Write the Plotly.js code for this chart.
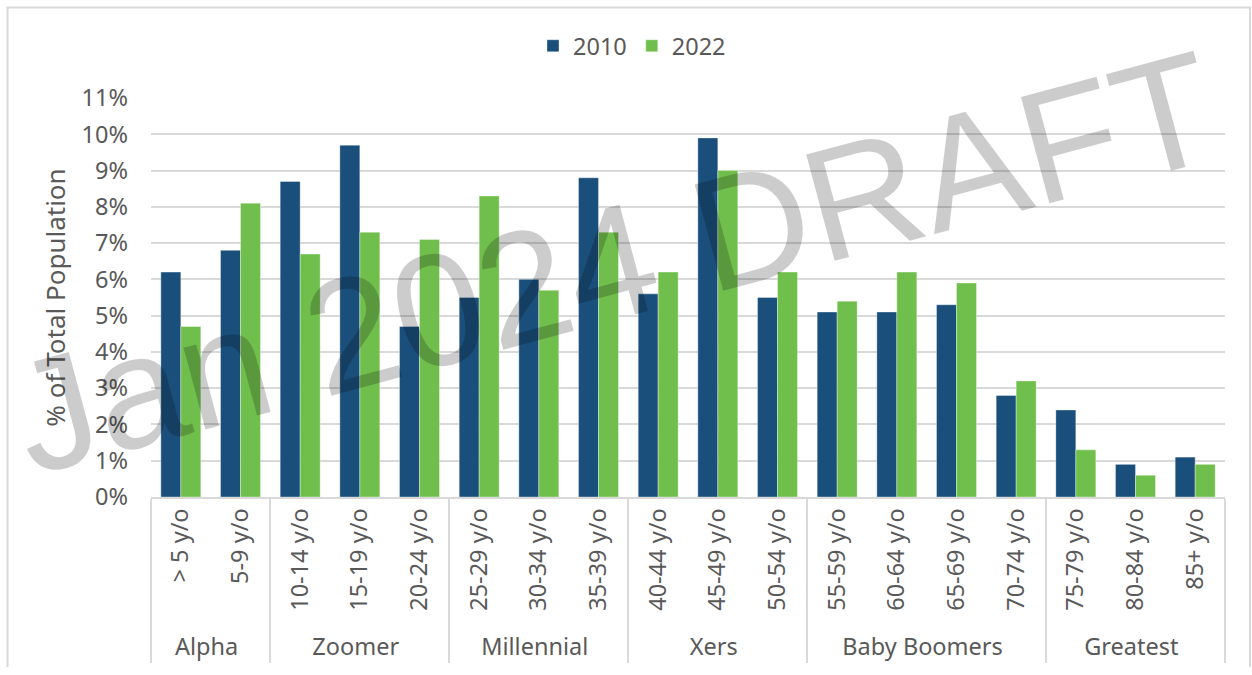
<!DOCTYPE html>
<html>
<head>
<meta charset="utf-8">
<script src="https://cdn.plot.ly/plotly-3.0.1.min.js"></script>
<style>
  html, body { margin: 0; padding: 0; background: #ffffff; }
  #chart { width: 1252px; height: 675px; }
</style>
</head>
<body>
<div id="chart"></div>
<script>
// ---- data ----
const generations = ["Alpha", "Alpha",
  "Zoomer", "Zoomer", "Zoomer",
  "Millennial", "Millennial", "Millennial",
  "Xers", "Xers", "Xers",
  "Baby Boomers", "Baby Boomers", "Baby Boomers", "Baby Boomers",
  "Greatest", "Greatest", "Greatest"];
const ageGroups = ["> 5 y/o", "5-9 y/o",
  "10-14 y/o", "15-19 y/o", "20-24 y/o",
  "25-29 y/o", "30-34 y/o", "35-39 y/o",
  "40-44 y/o", "45-49 y/o", "50-54 y/o",
  "55-59 y/o", "60-64 y/o", "65-69 y/o", "70-74 y/o",
  "75-79 y/o", "80-84 y/o", "85+ y/o"];
const values2010 = [6.2, 6.8, 8.7, 9.7, 4.7, 5.5, 6.0, 8.8, 5.6, 9.9, 5.5, 5.1, 5.1, 5.3, 2.8, 2.4, 0.9, 1.1];
const values2022 = [4.7, 8.1, 6.7, 7.3, 7.1, 8.3, 5.7, 7.3, 6.2, 9.0, 6.2, 5.4, 6.2, 5.9, 3.2, 1.3, 0.6, 0.9];
const seriesNames = ["2010", "2022"];
const yTicks = [0, 1, 2, 3, 4, 5, 6, 7, 8, 9, 10, 11];
const yTickLabels = ["0%", "1%", "2%", "3%", "4%", "5%", "6%", "7%", "8%", "9%", "10%", "11%"];
const watermarkText = "Jan 2024 DRAFT";

const FONT = "'Noto Sans', 'Open Sans', sans-serif";
const GREY = "#595959";

const traces = [
  { type: "bar", name: seriesNames[0], x: [generations, ageGroups], y: values2010,
    marker: { color: "#1a4f7b", line: { color: "rgba(255,255,255,0.6)", width: 0.6 } } },
  { type: "bar", name: seriesNames[1], x: [generations, ageGroups], y: values2022,
    marker: { color: "#70bf4c", line: { color: "rgba(255,255,255,0.6)", width: 0.6 } } }
];

const W = 1074, H = 399, L = 151, T = 98;
const px = v => (v - L) / W;
const py = v => (T + H - v) / H;

const layout = {
  width: 1252, height: 675,
  margin: { l: 151, r: 27, t: 98, b: 178 },
  paper_bgcolor: "#ffffff", plot_bgcolor: "#ffffff",
  font: { family: FONT, color: GREY, size: 23 },
  barmode: "group", bargap: 0.33, bargroupgap: 0,
  showlegend: true,
  legend: { orientation: "h", x: px(632), xanchor: "center", y: py(46), yanchor: "middle",
            font: { size: 23.5, color: GREY }, itemwidth: 30, traceorder: "normal" },
  xaxis: {
    type: "multicategory",
    tickangle: -90,
    tickfont: { size: 23.5, color: GREY },
    showline: true, linecolor: "#d9d9d9", linewidth: 2,
    showdividers: true, dividercolor: "#d9d9d9", dividerwidth: 2,
    ticks: "", showgrid: false
  },
  yaxis: {
    range: [0, 11], tickvals: yTicks, ticktext: yTickLabels,
    showgrid: true, gridcolor: "#d9d9d9", gridwidth: 2,
    zeroline: false, showline: false,
    tickfont: { size: 23.5, color: GREY },
    ticklabelstandoff: 22,
    title: { text: "% of Total Population", font: { size: 26, color: GREY }, standoff: 8 }
  },
  shapes: [
    { type: "path", xref: "paper", yref: "paper", layer: "below",
      path: `M ${px(7.5)} ${py(667)} L ${px(7.5)} ${py(7.5)} L ${px(1250)} ${py(7.5)} L ${px(1250)} ${py(667)}`,
      line: { color: "#d9d9d9", width: 2 } }
  ],
  annotations: [
    { text: watermarkText, xref: "paper", yref: "paper", x: px(614), y: py(262),
      xanchor: "center", yanchor: "middle", showarrow: false, textangle: -15,
      font: { family: "'Liberation Sans', Arial, sans-serif", size: 160, color: "rgba(0,0,0,0.2)" } }
  ]
};

Plotly.newPlot("chart", traces, layout, { staticPlot: true, displayModeBar: false });
</script>
</body>
</html>
